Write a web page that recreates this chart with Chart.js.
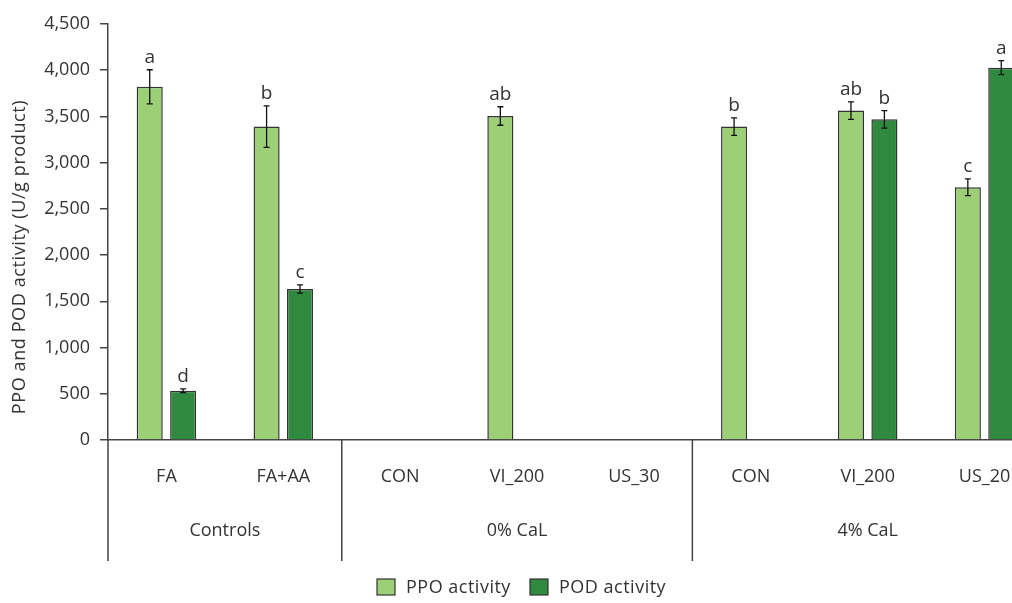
<!DOCTYPE html>
<html>
<head>
<meta charset="utf-8">
<script src="https://cdn.jsdelivr.net/npm/chart.js@4/dist/chart.umd.min.js"></script>
<style>
  html, body { margin: 0; padding: 0; background: #fff; overflow: hidden; }
  #wrap { width: 1012px; height: 603px; overflow: hidden; }
  canvas { display: block; }
</style>
</head>
<body>
<div id="wrap"><canvas id="chart" width="1043" height="603"></canvas></div>
<script>
// Treatments along the x axis
const categories = ['FA', 'FA+AA', 'CON', 'VI_200', 'US_30', 'CON', 'VI_200', 'US_20'];
// Treatment groups: label and first/last category index
const groupLabels = ['Controls', '0% CaL', '4% CaL'];
const groupStart  = [0, 2, 5];
const groupEnd    = [1, 4, 7];

// Enzyme activity (U/g product), standard deviations and significance letters
const ppoValues  = [3820, 3390, null, 3505, null, 3390, 3563, 2734];
const ppoErrors  = [185, 225, null, 100, null, 95, 95, 90];
const ppoLetters = ['a', 'b', null, 'ab', null, 'b', 'ab', 'c'];

const podValues  = [533, 1633, null, null, null, null, 3469, 4028];
const podErrors  = [20, 45, null, null, null, null, 95, 75];
const podLetters = ['d', 'c', null, null, null, null, 'b', 'a'];

const yTicks = [0, 500, 1000, 1500, 2000, 2500, 3000, 3500, 4000, 4500];

const FONT = "'Open Sans', 'DejaVu Sans', sans-serif";
const TEXT = '#333333';
const AXIS = '#444444';
const PPO_COLOR = '#9dcf77';
const POD_COLOR = '#2f8a3f';

const errors  = [ppoErrors, podErrors];
const letters = [ppoLetters, podLetters];

// Error bars and letters above each bar
const annotate = {
  id: 'annotate',
  afterDatasetsDraw(chart) {
    const ctx = chart.ctx;
    const y = chart.scales.y;
    ctx.save();
    chart.data.datasets.forEach((ds, di) => {
      const meta = chart.getDatasetMeta(di);
      meta.data.forEach((bar, i) => {
        const v = ds.data[i];
        if (v === null || v === undefined) return;
        const e = errors[di][i];
        const top = y.getPixelForValue(v + e);
        const bot = y.getPixelForValue(v - e);
        ctx.strokeStyle = '#111';
        ctx.lineWidth = 1.3;
        ctx.beginPath();
        ctx.moveTo(bar.x, top); ctx.lineTo(bar.x, bot);
        ctx.moveTo(bar.x - 3, top); ctx.lineTo(bar.x + 3, top);
        ctx.moveTo(bar.x - 3, bot); ctx.lineTo(bar.x + 3, bot);
        ctx.stroke();
        const l = letters[di][i];
        if (l) {
          ctx.fillStyle = TEXT;
          ctx.font = `400 19px ${FONT}`;
          ctx.textAlign = 'center';
          ctx.textBaseline = 'alphabetic';
          ctx.fillText(l, bar.x, top - 7);
        }
      });
    });
    ctx.restore();
  }
};

// Group separators, group labels, y title and legend
const frame = {
  id: 'frame',
  afterDraw(chart) {
    const ctx = chart.ctx;
    const x = chart.scales.x;
    const area = chart.chartArea;
    const half = (x.getPixelForValue(1) - x.getPixelForValue(0)) / 2;
    const lineBottom = area.bottom + 121;
    ctx.save();
    ctx.strokeStyle = AXIS;
    ctx.lineWidth = 1.5;
    ctx.beginPath();
    ctx.moveTo(area.left, area.bottom);
    ctx.lineTo(area.left, lineBottom);
    groupStart.slice(1).forEach(s => {
      const px = x.getPixelForValue(s) - half;
      ctx.moveTo(px, area.bottom);
      ctx.lineTo(px, lineBottom);
    });
    ctx.stroke();

    ctx.fillStyle = TEXT;
    ctx.font = `400 18px ${FONT}`;
    ctx.textAlign = 'center';
    ctx.textBaseline = 'middle';
    groupLabels.forEach((g, k) => {
      const cx = (x.getPixelForValue(groupStart[k]) + x.getPixelForValue(groupEnd[k])) / 2;
      ctx.fillText(g, cx, area.bottom + 91);
    });

    // y axis title
    ctx.save();
    ctx.translate(20, 257);
    ctx.rotate(-Math.PI / 2);
    ctx.letterSpacing = '0.6px';
    ctx.fillText('PPO and POD activity (U/g product)', 0, 0);
    ctx.restore();

    // legend
    const items = [['PPO activity', PPO_COLOR, 377], ['POD activity', POD_COLOR, 530]];
    ctx.textAlign = 'left';
    ctx.letterSpacing = '0.5px';
    items.forEach(([label, color, lx]) => {
      ctx.fillStyle = color;
      ctx.fillRect(lx, 579, 18, 16);
      ctx.strokeStyle = '#333';
      ctx.lineWidth = 1.2;
      ctx.strokeRect(lx, 579, 18, 16);
      ctx.fillStyle = TEXT;
      ctx.fillText(label, lx + 29, 588);
    });
    ctx.restore();
  }
};

new Chart(document.getElementById('chart'), {
  type: 'bar',
  data: {
    labels: categories,
    datasets: [
      { label: 'PPO activity', data: ppoValues, backgroundColor: PPO_COLOR,
        borderColor: '#333', borderWidth: 1.5, categoryPercentage: 0.572, barPercentage: 0.78 },
      { label: 'POD activity', data: podValues, backgroundColor: POD_COLOR,
        borderColor: '#333', borderWidth: 1.5, categoryPercentage: 0.572, barPercentage: 0.78 }
    ]
  },
  options: {
    responsive: false,
    animation: false,
    devicePixelRatio: 1,
    layout: { padding: { top: 24, right: 0, bottom: 43, left: 0 } },
    plugins: { legend: { display: false }, tooltip: { enabled: false } },
    scales: {
      x: {
        offset: true,
        grid: { display: false },
        border: { display: true, color: AXIS, width: 1.5 },
        ticks: { color: TEXT, font: { family: FONT, size: 18, weight: 400 }, padding: 18, maxRotation: 0, autoSkip: false },
        afterFit(scale) { scale.height = 120; }
      },
      y: {
        min: 0, max: 4500,
        afterBuildTicks(scale) { scale.ticks = yTicks.map(v => ({ value: v })); },
        grid: { display: true, drawOnChartArea: false, drawTicks: true, tickLength: 8, color: AXIS, lineWidth: 1.5 },
        border: { display: true, color: AXIS, width: 1.5 },
        ticks: {
          color: TEXT, font: { family: FONT, size: 18, weight: 400 }, padding: 10,
          callback: v => v.toLocaleString('en-US')
        },
        afterFit(scale) { scale.width = 108; }
      }
    }
  },
  plugins: [annotate, frame]
});
</script>
</body>
</html>
